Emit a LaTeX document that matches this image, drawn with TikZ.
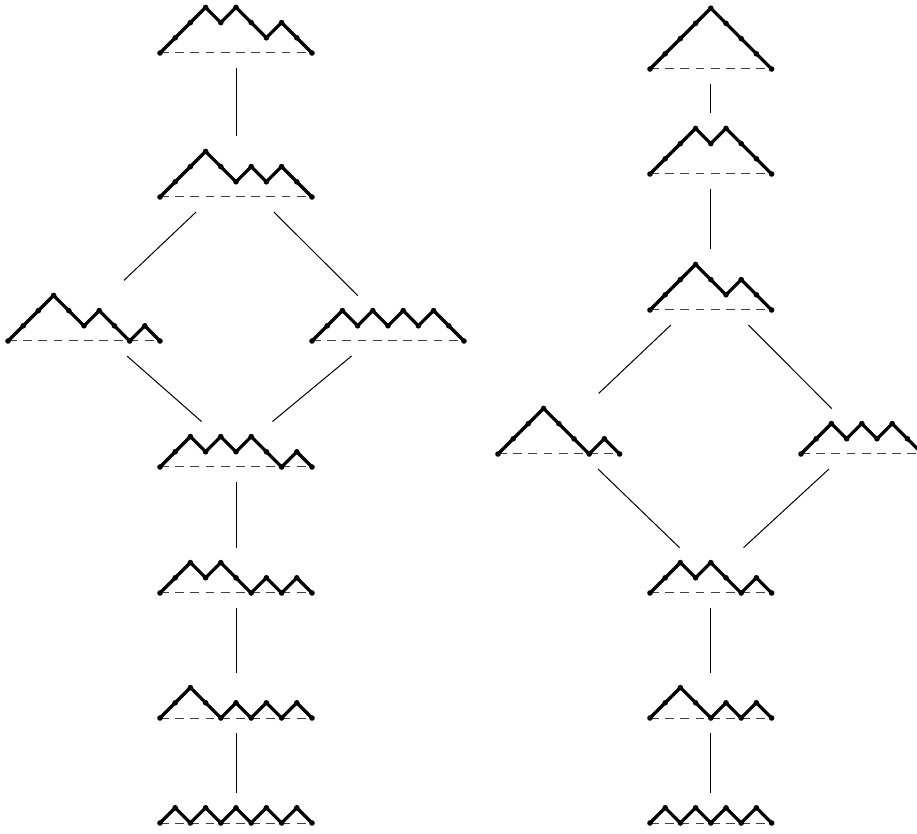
\documentclass[tikz,border=0pt]{standalone}
\usepackage{tikz}
\tikzset{
  pathbox/.style={rectangle, inner sep=0pt, outer sep=0pt},
  pathline/.style={line width=1.6pt, line cap=round, line join=round},
  axisline/.style={line width=0.5pt, draw=black!75, dash pattern=on 4.4pt off 3.2pt},
  link/.style={line width=0.5pt}
}
% #1 name, #2 left end of baseline, #3 steps, #4 max height, #5 heights after each step
\newcommand{\dyckpath}[5]{%
  \begin{scope}[shift={#2}, x=7.6pt, y=7.6pt]
    \draw[axisline] (0,0) -- (#3,0);
    \fill (0,0) circle[radius=1.4pt];
    \foreach \h [count=\i, remember=\h as \hp (initially 0)] in {#5} {
      \draw[pathline] (\i-1,\hp) -- (\i,\h);
      \fill (\i,\h) circle[radius=1.4pt];
    }
    \node[pathbox, minimum width={#3*7.6pt+15pt}, minimum height={#4*7.6pt+15pt}] (#1) at ({#3/2},{#4/2}) {};
  \end{scope}}

\begin{document}
\begin{tikzpicture}[x=0.5pt, y=-0.5pt]
  \useasboundingbox (0,0) rectangle (917,834);

  % left lattice
  \dyckpath{l1}{(160,53)}{10}{3}{1,2,3,2,3,2,1,2,1,0}
  \dyckpath{l2}{(160,197)}{10}{3}{1,2,3,2,1,2,1,2,1,0}
  \dyckpath{l3}{(8,341)}{10}{3}{1,2,3,2,1,2,1,0,1,0}
  \dyckpath{l4}{(312,341)}{10}{2}{1,2,1,2,1,2,1,2,1,0}
  \dyckpath{l5}{(160,467)}{10}{2}{1,2,1,2,1,2,1,0,1,0}
  \dyckpath{l6}{(160,593)}{10}{2}{1,2,1,2,1,0,1,0,1,0}
  \dyckpath{l7}{(160,718)}{10}{2}{1,2,1,0,1,0,1,0,1,0}
  \dyckpath{l8}{(160,823)}{10}{1}{1,0,1,0,1,0,1,0,1,0}

  % right lattice
  \dyckpath{r1}{(650,69)}{8}{4}{1,2,3,4,3,2,1,0}
  \dyckpath{r2}{(650,174)}{8}{3}{1,2,3,2,3,2,1,0}
  \dyckpath{r3}{(650,310)}{8}{3}{1,2,3,2,1,2,1,0}
  \dyckpath{r4}{(498,454)}{8}{3}{1,2,3,2,1,0,1,0}
  \dyckpath{r5}{(801,454)}{8}{2}{1,2,1,2,1,2,1,0}
  \dyckpath{r6}{(650,593)}{8}{2}{1,2,1,2,1,0,1,0}
  \dyckpath{r7}{(650,718)}{8}{2}{1,2,1,0,1,0,1,0}
  \dyckpath{r8}{(650,823)}{8}{1}{1,0,1,0,1,0,1,0}

  \draw[link] (l1) -- (l2);
  \draw[link] (l2) -- (l3);
  \draw[link] (l2) -- (l4);
  \draw[link] (l3) -- (l5);
  \draw[link] (l4) -- (l5);
  \draw[link] (l5) -- (l6);
  \draw[link] (l6) -- (l7);
  \draw[link] (l7) -- (l8);

  \draw[link] (r1) -- (r2);
  \draw[link] (r2) -- (r3);
  \draw[link] (r3) -- (r4);
  \draw[link] (r3) -- (r5);
  \draw[link] (r4) -- (r6);
  \draw[link] (r5) -- (r6);
  \draw[link] (r6) -- (r7);
  \draw[link] (r7) -- (r8);
\end{tikzpicture}
\end{document}
